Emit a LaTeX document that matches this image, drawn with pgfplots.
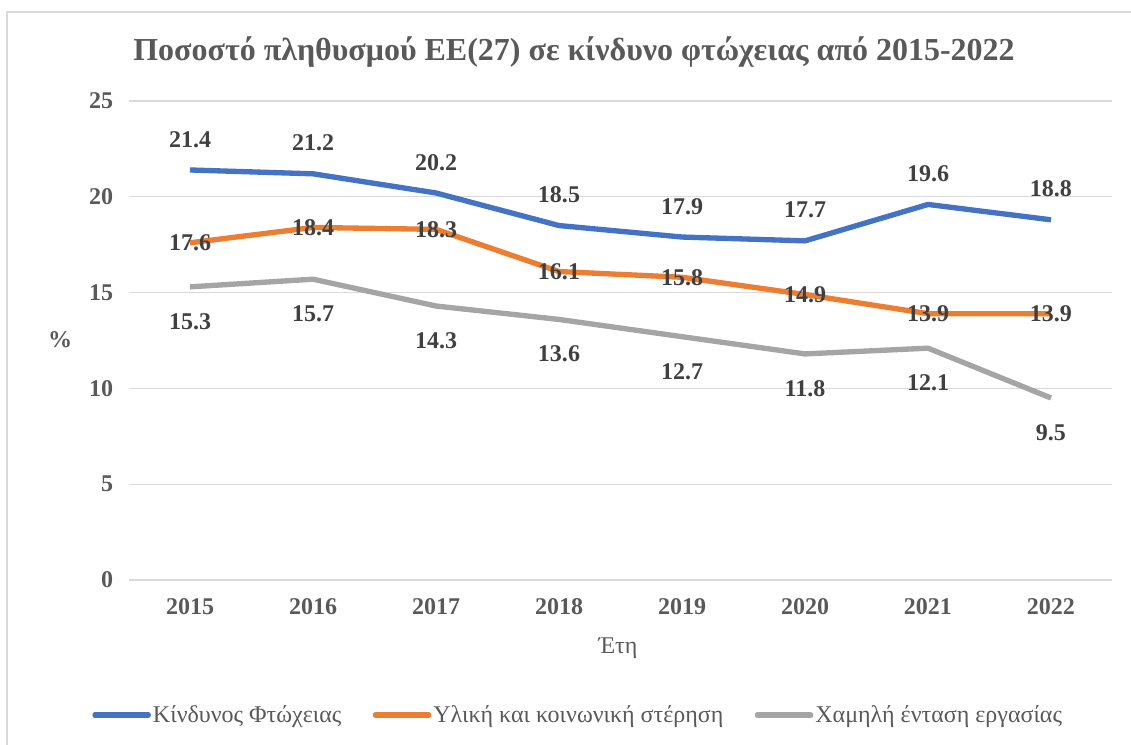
\documentclass[border=0pt]{standalone}
\usepackage{fontspec}
\setmainfont{Liberation Serif}
\usepackage{pgfplots}
\pgfplotsset{compat=1.18}
\definecolor{cblue}{HTML}{4472C4}
\definecolor{corange}{HTML}{ED7D31}
\definecolor{cgray}{HTML}{A5A5A5}
\definecolor{cgrid}{HTML}{D9D9D9}
\definecolor{ctick}{HTML}{595959}
\definecolor{clabel}{HTML}{404040}
\begin{document}
\begin{tikzpicture}[x=0.75pt,y=0.75pt]
\useasboundingbox (0,0) rectangle (1131,744);
\draw[cgrid, line width=1.2pt] (7,-10) -- (7,732) -- (1150,732);
\node[font=\fontsize{24}{28}\selectfont\bfseries, text=ctick] at (574,692) {Ποσοστό πληθυσμού ΕΕ(27) σε κίνδυνο φτώχειας από 2015-2022};
\node[font=\fontsize{18}{22}\selectfont\bfseries, text=ctick] at (60,404) {\%};
\node[font=\fontsize{18}{22}\selectfont, text=ctick] at (618,96) {Έτη};
\begin{axis}[
  at={(96.375pt,123pt)}, anchor=south west,
  scale only axis, width=738pt, height=359.25pt,
  xmin=-0.5, xmax=7.5, ymin=0, ymax=25,
  xtick={0,...,7}, xticklabels={2015,2016,2017,2018,2019,2020,2021,2022},
  ytick={0,5,10,15,20,25},
  ymajorgrids, grid style={cgrid, line width=0.9pt},
  axis line style={draw=none}, tick style={draw=none},
  /pgf/number format/assume math mode=true,
  ticklabel style={font=\fontsize{18}{22}\selectfont\bfseries, text=ctick},
  yticklabel style={anchor=east, xshift=-8pt},
  xticklabel style={anchor=center, yshift=-20pt},
  clip=false,
  nodes near coords,
  nodes near coords style={font=\fontsize{18}{22}\selectfont\bfseries, text=clabel, anchor=center,
    /pgf/number format/fixed, /pgf/number format/fixed zerofill, /pgf/number format/precision=1, /pgf/number format/assume math mode=true},
  legend columns=3,
  legend style={at={(0.457,-0.282)}, anchor=center, draw=none, fill=none,
    font=\fontsize{18}{22}\selectfont, text=ctick,
    /tikz/every even column/.append style={column sep=22pt},
    nodes={inner sep=1.5pt}},
  legend image code/.code={\draw[#1, line width=4pt, line cap=round] (0pt,0pt) -- (40pt,0pt);},
]
\addplot[cblue, line width=4pt, line join=round, mark=none, every node near coord/.append style={yshift=23pt}]
  coordinates {(0,21.4) (1,21.2) (2,20.2) (3,18.5) (4,17.9) (5,17.7) (6,19.6) (7,18.8)};
\addlegendentry{Κίνδυνος Φτώχειας}
\addplot[corange, line width=4pt, line join=round, mark=none]
  coordinates {(0,17.6) (1,18.4) (2,18.3) (3,16.1) (4,15.8) (5,14.9) (6,13.9) (7,13.9)};
\addlegendentry{Υλική και κοινωνική στέρηση}
\addplot[cgray, line width=4pt, line join=round, mark=none, every node near coord/.append style={yshift=-26pt}]
  coordinates {(0,15.3) (1,15.7) (2,14.3) (3,13.6) (4,12.7) (5,11.8) (6,12.1) (7,9.5)};
\addlegendentry{Χαμηλή ένταση εργασίας}
\end{axis}
\end{tikzpicture}
\end{document}
